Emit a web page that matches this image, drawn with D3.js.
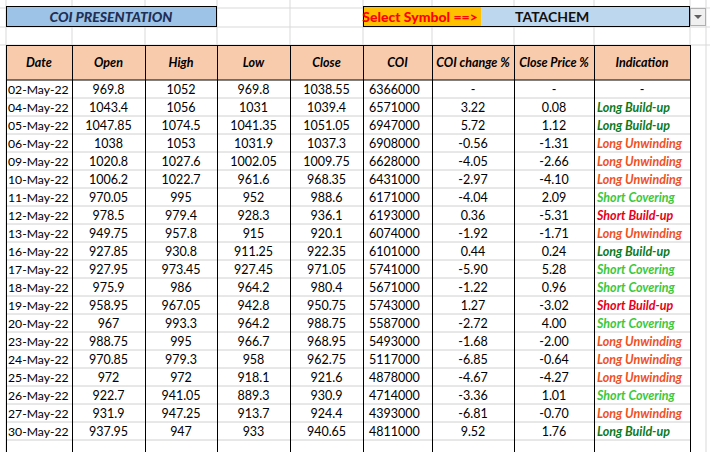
<!DOCTYPE html><html><head><meta charset="utf-8"><script src="https://cdn.jsdelivr.net/npm/d3@7"></script>
<style>body{margin:0;background:#fff}svg{display:block}</style></head><body><svg id="c" width="710" height="452"></svg><script>
const headers=["Date","Open","High","Low","Close","COI","COI change %","Close Price %","Indication"];
const dates=["02-May-22","04-May-22","05-May-22","06-May-22","09-May-22","10-May-22","11-May-22","12-May-22","13-May-22","16-May-22","17-May-22","18-May-22","19-May-22","20-May-22","23-May-22","24-May-22","25-May-22","26-May-22","27-May-22","30-May-22"];
const open=["969.8","1043.4","1047.85","1038","1020.8","1006.2","970.05","978.5","949.75","927.85","927.95","975.9","958.95","967","988.75","970.85","972","922.7","931.9","937.95"];
const high=["1052","1056","1074.5","1053","1027.6","1022.7","995","979.4","957.8","930.8","973.45","986","967.05","993.3","995","979.3","972","941.05","947.25","947"];
const low=["969.8","1031","1041.35","1031.9","1002.05","961.6","952","928.3","915","911.25","927.45","964.2","942.8","964.2","966.7","958","918.1","889.3","913.7","933"];
const close=["1038.55","1039.4","1051.05","1037.3","1009.75","968.35","988.6","936.1","920.1","922.35","971.05","980.4","950.75","988.75","968.95","962.75","921.6","930.9","924.4","940.65"];
const coi=["6366000","6571000","6947000","6908000","6628000","6431000","6171000","6193000","6074000","6101000","5741000","5671000","5743000","5587000","5493000","5117000","4878000","4714000","4393000","4811000"];
const coiChg=["-","3.22","5.72","-0.56","-4.05","-2.97","-4.04","0.36","-1.92","0.44","-5.90","-1.22","1.27","-2.72","-1.68","-6.85","-4.67","-3.36","-6.81","9.52"];
const closeChg=["-","0.08","1.12","-1.31","-2.66","-4.10","2.09","-5.31","-1.71","0.24","5.28","0.96","-3.02","4.00","-2.00","-0.64","-4.27","1.01","-0.70","1.76"];
const indication=["-","Long Build-up","Long Build-up","Long Unwinding","Long Unwinding","Long Unwinding","Short Covering","Short Build-up","Long Unwinding","Long Build-up","Short Covering","Short Covering","Short Build-up","Short Covering","Long Unwinding","Long Unwinding","Long Unwinding","Short Covering","Long Unwinding","Long Build-up"];
const indColor={"Long Build-up":"#0b7a1e","Long Unwinding":"#f0501e","Short Covering":"#3cc83c","Short Build-up":"#e8001a","-":"#000"};
const colEdges=[6,72,145,217,290,363,432,514,594,690];
const svg=d3.select("#c");const F="Lato, 'Noto Sans', sans-serif";
const gx=[6,72,145,217,290,363,432,514,594,690,706];
svg.selectAll(".gv").data(gx).join("line").attr("x1",d=>d).attr("x2",d=>d).attr("y1",0).attr("y2",452).attr("stroke","#d9d9d9");
[8,27,45].forEach(y=>svg.append("line").attr("x1",0).attr("x2",710).attr("y1",y).attr("y2",y).attr("stroke","#d9d9d9"));
svg.append("rect").attr("x",6.5).attr("y",6.5).attr("width",210).attr("height",20).attr("fill","#9dc3e6").attr("stroke","#000");
svg.append("text").attr("x",111).attr("y",21.5).attr("text-anchor","middle").attr("font-family",F).attr("font-size",14).attr("font-weight","900").attr("font-style","italic").attr("fill","#1f2f55").text("COI PRESENTATION");
svg.append("rect").attr("x",363.5).attr("y",6.5).attr("width",118).attr("height",20).attr("fill","#ffc000");
svg.append("rect").attr("x",481.5).attr("y",6.5).attr("width",208).attr("height",20).attr("fill","#bdd7ee");
svg.append("rect").attr("x",363.5).attr("y",6.5).attr("width",326).attr("height",20).attr("fill","none").attr("stroke","#000");
svg.append("text").attr("x",420).attr("y",21.5).attr("text-anchor","middle").attr("font-family",F).attr("font-size",14).attr("font-weight","900").attr("fill","#ff0000").text("Select Symbol ==>");
svg.append("text").attr("x",515).attr("y",21.5).attr("font-family",F).attr("font-size",14).attr("font-weight","bold").attr("fill","#111").text("TATACHEM");
svg.append("rect").attr("x",690.5).attr("y",8.5).attr("width",15).attr("height",17).attr("fill","#f0f0f0").attr("stroke","#b0b0b0");
svg.append("path").attr("d","M694,15 L702,15 L698,19 Z").attr("fill","#606060");
const rowY=d3.scaleBand().domain(d3.range(dates.length)).range([80,440]);
svg.append("rect").attr("x",6).attr("y",45).attr("width",684).attr("height",35).attr("fill","#f8cbad");
svg.append("rect").attr("x",6).attr("y",80).attr("width",684).attr("height",372).attr("fill","#fff");
svg.selectAll(".hl").data(d3.range(1,dates.length+1)).join("line").attr("x1",6).attr("x2",690).attr("y1",d=>rowY(d)??440).attr("y2",d=>rowY(d)??440).attr("stroke","#d0d0d0");
svg.selectAll(".ht").data(headers).join("text").attr("x",(d,i)=>(colEdges[i]+colEdges[i+1])/2).attr("y",67).attr("text-anchor","middle").attr("font-family",F).attr("font-size",12.5).attr("font-weight","bold").attr("font-style","italic").attr("fill","#000").text(d=>d);
const cols=[dates,open,high,low,close,coi,coiChg,closeChg,indication];
dates.forEach((_,r)=>{cols.forEach((c,i)=>{
 const v=c[r];const t=svg.append("text").attr("y",rowY(r)+14).attr("font-family",F).attr("font-size",12.5).text(v);
 if(i===0) t.attr("x",colEdges[0]+2).attr("font-size",12.2);
 else if(i===5) t.attr("x",colEdges[5]+6);
 else if(i===8&&v!=="-") t.attr("x",colEdges[8]+3).attr("font-weight","bold").attr("font-style","italic").attr("fill",indColor[v]);
 else t.attr("x",(colEdges[i]+colEdges[i+1])/2).attr("text-anchor","middle");
});});
svg.append("line").attr("x1",6).attr("x2",690).attr("y1",45.5).attr("y2",45.5).attr("stroke","#000");
svg.append("line").attr("x1",6).attr("x2",690).attr("y1",80).attr("y2",80).attr("stroke","#000");
svg.selectAll(".vl").data(colEdges).join("line").attr("x1",d=>d+0.5).attr("x2",d=>d+0.5).attr("y1",45).attr("y2",452).attr("stroke","#000");
</script></body></html>
